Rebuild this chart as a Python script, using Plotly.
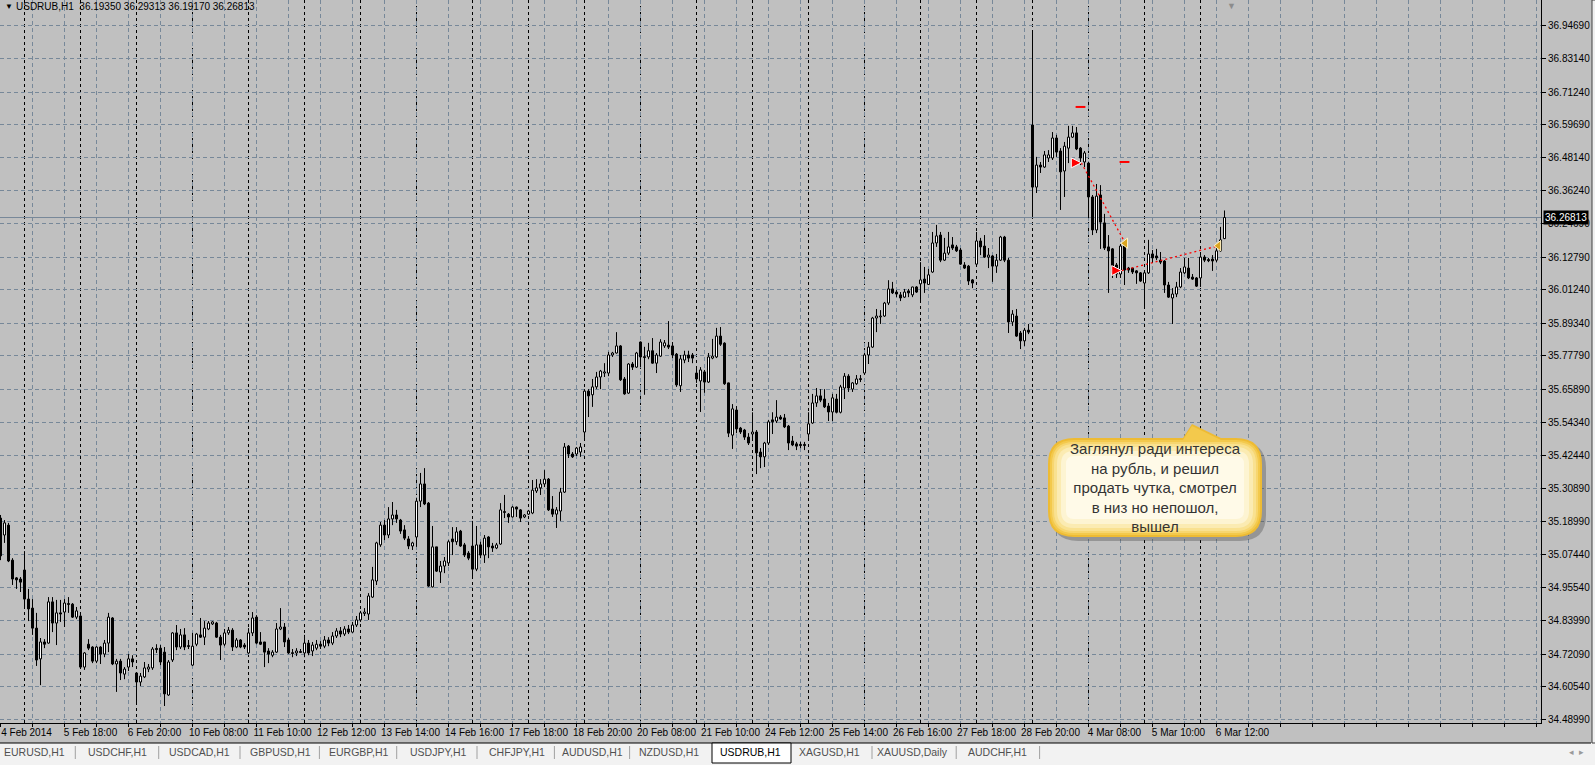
import plotly.graph_objects as go

# ---------------- data (USDRUB, H1) ----------------
opens = [
35.203,35.143,35.178,35.054,34.991,34.987,35.019,34.916,34.884,34.813,
34.704,34.764,34.760,34.906,34.831,34.867,34.870,34.900,34.898,34.852,
34.856,34.675,34.756,34.746,34.696,34.746,34.721,34.760,34.849,34.686,
34.696,34.650,34.675,34.704,34.654,34.622,34.640,34.668,34.672,34.741,
34.742,34.728,34.576,34.700,34.796,34.746,34.789,34.751,34.682,34.756,
34.789,34.781,34.810,34.828,34.831,34.781,34.756,34.796,34.806,34.746,
34.771,34.753,34.725,34.796,34.852,34.764,34.764,34.732,34.717,34.728,
34.810,34.817,34.771,34.726,34.725,34.730,34.725,34.760,34.732,34.742,
34.756,34.749,34.771,34.760,34.785,34.803,34.792,34.810,34.799,34.824,
34.842,34.865,34.863,34.923,34.980,35.108,35.178,35.143,35.200,35.214,
35.196,35.161,35.129,35.104,35.136,35.263,35.324,35.256,34.959,35.101,
35.012,35.033,35.044,35.129,35.119,35.157,35.108,35.079,35.104,35.022,
35.108,35.072,35.136,35.104,35.097,35.111,35.226,35.217,35.207,35.242,
35.232,35.207,35.217,35.221,35.299,35.310,35.324,35.341,35.235,35.217,
35.228,35.295,35.458,35.430,35.430,35.437,35.508,35.653,35.640,35.668,
35.703,35.717,35.717,35.781,35.788,35.813,35.696,35.646,35.749,35.738,
35.827,35.775,35.774,35.796,35.752,35.777,35.813,35.816,35.813,35.784,
35.672,35.763,35.781,35.781,35.717,35.689,35.721,35.685,35.770,35.774,
35.848,35.823,35.682,35.497,35.586,35.522,35.515,35.490,35.501,35.508,
35.437,35.420,35.469,35.551,35.547,35.561,35.558,35.529,35.476,35.466,
35.464,35.464,35.501,35.540,35.611,35.636,35.625,35.600,35.579,35.625,
35.578,35.664,35.706,35.660,35.679,35.697,35.717,35.781,35.809,35.912,
35.916,35.919,35.965,36.015,36.004,35.994,35.986,36.008,35.994,36.022,
36.033,36.050,36.031,36.075,36.178,36.206,36.117,36.142,36.171,36.164,
36.153,36.100,36.096,36.047,36.103,36.185,36.167,36.128,36.132,36.096,
36.117,36.199,36.117,35.898,35.919,35.859,35.831,35.869,36.596,36.376,
36.454,36.447,36.479,36.479,36.550,36.504,36.433,36.514,36.553,36.568,
36.514,36.465,36.461,36.341,36.224,36.348,36.249,36.164,36.157,36.100,
36.068,36.167,36.089,36.089,36.079,36.072,36.036,36.072,36.139,36.132,
36.117,36.114,36.029,35.983,35.997,36.022,36.072,36.089,36.057,36.054,
36.054,36.128,36.119,36.121,36.117,36.150,36.19350]

highs = [
35.214,35.196,35.186,35.061,34.994,34.994,35.086,34.952,34.916,34.867,
34.778,34.774,34.923,34.923,34.913,34.913,34.916,34.923,34.902,34.888,
34.859,34.728,34.774,34.749,34.749,34.749,34.771,34.867,34.852,34.704,
34.704,34.675,34.721,34.717,34.657,34.654,34.693,34.686,34.746,34.756,
34.753,34.746,34.700,34.799,34.824,34.810,34.813,34.771,34.796,34.796,
34.849,34.838,34.838,34.838,34.835,34.789,34.810,34.817,34.813,34.778,
34.774,34.760,34.813,34.870,34.859,34.799,34.764,34.742,34.735,34.831,
34.884,34.831,34.778,34.739,34.742,34.739,34.789,34.771,34.764,34.771,
34.767,34.785,34.781,34.799,34.813,34.817,34.820,34.824,34.835,34.856,
34.874,34.884,34.937,35.030,35.119,35.189,35.196,35.242,35.260,35.232,
35.200,35.178,35.139,35.119,35.274,35.363,35.380,35.260,35.175,35.101,
35.051,35.065,35.125,35.171,35.171,35.161,35.115,35.086,35.193,35.175,
35.119,35.143,35.139,35.115,35.115,35.256,35.285,35.221,35.246,35.244,
35.235,35.217,35.232,35.338,35.341,35.341,35.373,35.345,35.281,35.242,
35.310,35.469,35.462,35.437,35.455,35.469,35.660,35.660,35.696,35.721,
35.728,35.752,35.792,35.792,35.862,35.816,35.703,35.752,35.756,35.792,
35.829,35.810,35.824,35.841,35.788,35.837,35.834,35.901,35.827,35.788,
35.781,35.796,35.796,35.788,35.735,35.738,35.728,35.788,35.838,35.877,
35.880,35.826,35.683,35.607,35.600,35.526,35.519,35.504,35.578,35.515,
35.451,35.473,35.551,35.578,35.621,35.568,35.572,35.533,35.494,35.473,
35.473,35.473,35.578,35.643,35.664,35.660,35.660,35.611,35.643,35.643,
35.675,35.717,35.713,35.685,35.710,35.710,35.788,35.827,35.916,35.944,
35.940,35.969,36.046,36.040,36.011,36.004,36.015,36.015,36.023,36.025,
36.110,36.093,36.086,36.217,36.242,36.217,36.196,36.217,36.199,36.171,
36.160,36.110,36.100,36.050,36.217,36.196,36.206,36.160,36.135,36.139,
36.203,36.203,36.125,35.940,35.944,35.866,35.877,35.891,36.926,36.483,
36.465,36.504,36.507,36.571,36.561,36.514,36.536,36.593,36.593,36.589,
36.518,36.504,36.465,36.348,36.387,36.383,36.281,36.206,36.160,36.107,
36.174,36.174,36.093,36.090,36.082,36.075,36.075,36.189,36.153,36.157,
36.146,36.117,36.040,36.018,36.040,36.089,36.125,36.125,36.068,36.057,
36.135,36.135,36.125,36.135,36.160,36.235,36.29313]

lows = [
35.054,35.115,35.047,34.966,34.952,34.941,34.888,34.838,34.789,34.679,
34.611,34.742,34.758,34.799,34.753,34.835,34.817,34.867,34.849,34.845,
34.672,34.665,34.735,34.689,34.689,34.686,34.710,34.728,34.682,34.587,
34.629,34.632,34.661,34.675,34.544,34.608,34.636,34.657,34.665,34.725,
34.682,34.537,34.573,34.693,34.735,34.739,34.735,34.739,34.679,34.749,
34.778,34.753,34.806,34.824,34.778,34.700,34.749,34.789,34.732,34.742,
34.742,34.739,34.721,34.785,34.756,34.753,34.675,34.689,34.710,34.725,
34.806,34.746,34.721,34.710,34.714,34.725,34.710,34.717,34.714,34.735,
34.739,34.742,34.749,34.753,34.778,34.781,34.785,34.792,34.796,34.817,
34.835,34.856,34.842,34.920,34.966,35.101,35.125,35.132,35.178,35.186,
35.147,35.125,35.093,35.090,35.101,35.242,35.249,34.959,34.957,35.012,
34.973,35.008,35.033,35.072,35.108,35.101,35.065,35.054,34.994,35.015,
35.061,35.044,35.061,35.083,35.093,35.108,35.203,35.186,35.205,35.207,
35.189,35.203,35.214,35.217,35.292,35.285,35.313,35.228,35.207,35.168,
35.193,35.292,35.416,35.416,35.423,35.420,35.487,35.561,35.597,35.660,
35.660,35.703,35.706,35.774,35.786,35.689,35.640,35.643,35.728,35.735,
35.738,35.640,35.766,35.750,35.717,35.774,35.806,35.802,35.770,35.668,
35.650,35.752,35.756,35.752,35.682,35.579,35.647,35.682,35.766,35.770,
35.813,35.675,35.490,35.448,35.504,35.501,35.480,35.462,35.480,35.359,
35.380,35.384,35.462,35.501,35.540,35.551,35.522,35.444,35.458,35.444,
35.451,35.444,35.487,35.537,35.597,35.614,35.593,35.547,35.547,35.574,
35.574,35.625,35.650,35.650,35.675,35.685,35.710,35.749,35.806,35.862,
35.891,35.916,35.958,35.997,35.986,35.972,35.983,35.986,35.986,36.001,
35.976,36.001,36.029,36.072,36.164,36.110,36.114,36.135,36.153,36.146,
36.100,36.086,36.029,36.018,36.100,36.135,36.125,36.089,36.040,36.072,
36.114,36.110,35.859,35.884,35.845,35.802,35.813,35.855,36.270,36.355,
36.426,36.444,36.465,36.472,36.483,36.295,36.341,36.461,36.550,36.507,
36.454,36.447,36.266,36.206,36.213,36.157,36.153,36.001,36.054,36.054,
36.054,36.029,36.072,36.068,36.033,36.040,35.951,36.068,36.107,36.117,
36.103,36.001,35.983,35.891,35.986,36.018,36.068,36.050,36.047,36.022,
36.022,36.110,36.110,36.079,36.110,36.146,36.19170]

closes = [
35.069,35.186,35.051,34.987,34.984,34.976,34.916,34.881,34.813,34.700,
34.764,34.756,34.906,34.831,34.867,34.863,34.902,34.897,34.852,34.874,
34.675,34.725,34.742,34.696,34.746,34.721,34.760,34.852,34.686,34.696,
34.654,34.668,34.704,34.693,34.622,34.643,34.672,34.675,34.739,34.737,
34.693,34.580,34.693,34.796,34.746,34.789,34.746,34.748,34.749,34.792,
34.781,34.813,34.831,34.835,34.781,34.753,34.796,34.806,34.746,34.771,
34.746,34.746,34.796,34.849,34.760,34.756,34.728,34.721,34.728,34.810,
34.817,34.764,34.725,34.723,34.732,34.727,34.760,34.725,34.753,34.756,
34.749,34.771,34.760,34.785,34.803,34.792,34.810,34.799,34.824,34.842,
34.867,34.870,34.927,34.984,35.115,35.178,35.143,35.200,35.214,35.200,
35.157,35.132,35.104,35.115,35.263,35.324,35.253,34.962,35.101,35.015,
35.033,35.051,35.119,35.119,35.154,35.104,35.072,35.061,35.022,35.108,
35.072,35.132,35.101,35.097,35.108,35.232,35.223,35.207,35.242,35.235,
35.203,35.214,35.228,35.302,35.310,35.324,35.341,35.232,35.217,35.232,
35.295,35.455,35.430,35.420,35.451,35.455,35.653,35.636,35.668,35.703,
35.724,35.721,35.781,35.788,35.813,35.693,35.643,35.749,35.738,35.788,
35.774,35.772,35.796,35.752,35.781,35.827,35.824,35.809,35.781,35.675,
35.767,35.781,35.770,35.770,35.696,35.728,35.685,35.774,35.777,35.848,
35.819,35.679,35.504,35.590,35.519,35.508,35.490,35.469,35.508,35.434,
35.420,35.469,35.544,35.544,35.561,35.554,35.526,35.469,35.462,35.458,
35.460,35.460,35.537,35.611,35.636,35.621,35.597,35.579,35.629,35.578,
35.668,35.706,35.664,35.682,35.696,35.694,35.781,35.809,35.912,35.919,
35.919,35.965,36.015,36.001,35.997,35.983,36.004,36.001,36.022,36.004,
36.047,36.036,36.065,36.178,36.203,36.117,36.142,36.164,36.160,36.150,
36.103,36.089,36.043,36.036,36.185,36.164,36.128,36.135,36.096,36.117,
36.199,36.117,35.898,35.926,35.848,35.831,35.869,35.862,36.376,36.454,
36.447,36.490,36.490,36.550,36.500,36.430,36.521,36.553,36.568,36.511,
36.479,36.497,36.341,36.224,36.344,36.252,36.160,36.150,36.072,36.068,
36.167,36.082,36.082,36.075,36.072,36.043,36.072,36.139,36.125,36.125,
36.110,36.029,35.986,35.997,36.022,36.075,36.093,36.054,36.050,36.025,
36.128,36.117,36.115,36.114,36.150,36.189,36.26813]

bars = list(range(len(closes)))

# time-axis labels (one every 16 bars), day-separator bars
time_label_bars = [0, 16, 32, 48, 64, 80, 96, 112, 128, 144, 160, 176, 192, 208, 224, 240, 256, 272, 288, 304]
time_labels = ["4 Feb 2014", "5 Feb 18:00", "6 Feb 20:00", "10 Feb 08:00", "11 Feb 10:00",
               "12 Feb 12:00", "13 Feb 14:00", "14 Feb 16:00", "17 Feb 18:00", "18 Feb 20:00",
               "20 Feb 08:00", "21 Feb 10:00", "24 Feb 12:00", "25 Feb 14:00", "26 Feb 16:00",
               "27 Feb 18:00", "28 Feb 20:00", "4 Mar 08:00", "5 Mar 10:00", "6 Mar 12:00"]
day_start_bars = [6, 20, 34, 48, 62, 76, 90, 104, 118, 132, 146, 160, 174, 188, 202, 216,
                  230, 244, 258, 272, 286, 300]

price_ticks = [36.94690, 36.83140, 36.71240, 36.59690, 36.48140, 36.36240, 36.24690,
               36.12790, 36.01240, 35.89340, 35.77790, 35.65890, 35.54340, 35.42440,
               35.30890, 35.18990, 35.07440, 34.95540, 34.83990, 34.72090, 34.60540, 34.48990]

# trades drawn on the chart
trade_open_bar = [270.2, 280.3]
trade_open_price = [36.462, 36.080]
trade_close_bar = [281.2, 304.5]
trade_close_price = [36.177, 36.168]
stop_bar = [270, 281]
stop_price = [36.660, 36.465]

symbol = "USDRUB,H1"
tabs = ["EURUSD,H1", "USDCHF,H1", "USDCAD,H1", "GBPUSD,H1", "EURGBP,H1", "USDJPY,H1",
        "CHFJPY,H1", "AUDUSD,H1", "NZDUSD,H1", "USDRUB,H1", "XAGUSD,H1", "XAUUSD,Daily", "AUDCHF,H1"]
note_text = "Заглянул ради интереса<br>на рубль, и решил<br>продать чутка, смотрел<br>в низ но непошол,<br>вышел"

# ---------------- layout geometry ----------------
W, H = 1595, 765
ML, MR, MT, MB = 0, 54, 0, 42
PW, PH = W - ML - MR, H - MT - MB
FONT = "Liberation Sans, Arial, sans-serif"
BG = "#c0c0c0"
GRID = "#778899"
X0 = -0.125                      # bar k centred on pixel column 4k + 0.5
XR = [X0, X0 + PW / 4.0]


def px(x):
    return x / PW


def py(y):
    return 1 - y / PH


fig = go.Figure()

# wicks: upper and lower segments so that they never cross the bodies
wx, wy = [], []
for k in bars:
    top, bot = max(opens[k], closes[k]), min(opens[k], closes[k])
    wx += [k, k, None, k, k, None]
    wy += [highs[k], top, None, bot, lows[k], None]
fig.add_trace(go.Scatter(x=wx, y=wy, mode="lines", line=dict(color="black", width=1),
                         hoverinfo="skip", showlegend=False, connectgaps=False))

up = [k for k in bars if closes[k] >= opens[k]]
dn = [k for k in bars if closes[k] < opens[k]]
fig.add_trace(go.Bar(x=up, base=[opens[k] for k in up], y=[closes[k] - opens[k] for k in up],
                     width=0.5, marker=dict(color="white", line=dict(color="black", width=1)),
                     hoverinfo="skip", showlegend=False))
fig.add_trace(go.Bar(x=dn, base=[closes[k] for k in dn], y=[opens[k] - closes[k] for k in dn],
                     width=0.5, marker=dict(color="black", line=dict(color="black", width=1)),
                     hoverinfo="skip", showlegend=False))

# trade connectors
for i in range(len(trade_open_bar)):
    fig.add_trace(go.Scatter(
        x=[trade_open_bar[i], trade_close_bar[i]], y=[trade_open_price[i], trade_close_price[i]],
        mode="lines", line=dict(color="#ff0000", width=1.3, dash="2px,3px"),
        hoverinfo="skip", showlegend=False))
fig.add_trace(go.Scatter(
    x=trade_open_bar, y=trade_open_price, mode="markers",
    marker=dict(symbol="arrow-right", size=10, color="#ff0000", line=dict(color="white", width=1)),
    hoverinfo="skip", showlegend=False))
fig.add_trace(go.Scatter(
    x=trade_close_bar, y=trade_close_price, mode="markers",
    marker=dict(symbol="triangle-left", size=9, color="#daa520", line=dict(color="#fff5cc", width=1)),
    hoverinfo="skip", showlegend=False))
fig.add_trace(go.Scatter(
    x=stop_bar, y=stop_price, mode="markers",
    marker=dict(symbol="line-ew", size=7, color="#ff0000", line=dict(color="#ff0000", width=2)),
    hoverinfo="skip", showlegend=False))

shapes = []
# day separators
for b in day_start_bars:
    shapes.append(dict(type="line", xref="x", yref="paper", x0=b, x1=b, y0=0, y1=1,
                       line=dict(color="black", width=1, dash="3px,3px"), layer="below"))
# bid line
shapes.append(dict(type="line", xref="paper", yref="y", x0=0, x1=1,
                   y0=closes[-1], y1=closes[-1], line=dict(color=GRID, width=1), layer="below"))

BX0, BY0, BX1, BY1 = 1048, 438, 1262, 537


def bubble_path(inset, tail, dx=0, dy=0):
    x0, y0, x1, y1 = BX0 + inset + dx, BY0 + inset + dy, BX1 - inset + dx, BY1 - inset + dy
    r = max(26 - inset, 6)
    pts = [f"M {px(x0 + r)} {py(y0)}"]
    if tail:
        pts += [f"L {px(1183 + dx)} {py(y0)}", f"L {px(1192 + dx)} {py(424 + inset + dy)}",
                f"L {px(1221 + dx)} {py(y0)}"]
    pts += [f"L {px(x1 - r)} {py(y0)}", f"Q {px(x1)} {py(y0)} {px(x1)} {py(y0 + r)}",
            f"L {px(x1)} {py(y1 - r)}", f"Q {px(x1)} {py(y1)} {px(x1 - r)} {py(y1)}",
            f"L {px(x0 + r)} {py(y1)}", f"Q {px(x0)} {py(y1)} {px(x0)} {py(y1 - r)}",
            f"L {px(x0)} {py(y0 + r)}", f"Q {px(x0)} {py(y0)} {px(x0 + r)} {py(y0)} Z"]
    return " ".join(pts)


shapes.append(dict(type="path", xref="paper", yref="paper", path=bubble_path(0, True, 4, 4),
                   fillcolor="rgba(70,70,70,0.35)", line=dict(width=0)))
for inset, col in [(0, "#eebb33"), (2, "#f3c94c"), (4, "#f7d670"), (6, "#f9e190"),
                   (9, "#fbebb2"), (13, "#fdf4d2"), (18, "#fffae8")]:
    shapes.append(dict(type="path", xref="paper", yref="paper", path=bubble_path(inset, inset <= 2),
                       fillcolor=col, line=dict(width=0)))

# bottom tab strip and right window edge
shapes.append(dict(type="rect", xref="paper", yref="paper", x0=px(0), x1=px(W), y0=py(743), y1=py(H),
                   fillcolor="#f2f2f2", line=dict(width=0)))
shapes.append(dict(type="line", xref="paper", yref="paper", x0=px(0), x1=px(1591), y0=py(743), y1=py(743),
                   line=dict(color="black", width=1)))
shapes.append(dict(type="rect", xref="paper", yref="paper", x0=px(1592), x1=px(W + 2), y0=py(0), y1=py(743),
                   fillcolor="#f0f0f0", line=dict(color="#404040", width=1)))
tab_centers = [34, 117, 199.4, 280.8, 358, 438.4, 516.7, 592, 669.3, 750.7, 829, 912.4, 997.9]
tab_seps = [75.3, 158.7, 240, 319.4, 396.7, 477, 554.4, 629.6, 872, 956.2, 1039.6]
for s in tab_seps:
    shapes.append(dict(type="line", xref="paper", yref="paper", x0=px(s), x1=px(s), y0=py(746), y1=py(759),
                       line=dict(color="#a0a0a0", width=1)))
shapes.append(dict(type="rect", xref="paper", yref="paper", x0=px(712), x1=px(791), y0=py(743), y1=py(763),
                   fillcolor="white", line=dict(color="black", width=1)))

annotations = []
# header
annotations.append(dict(xref="paper", yref="paper", x=px(3), y=py(7), xanchor="left", yanchor="middle",
                        text="▼", showarrow=False, font=dict(family=FONT, size=8, color="black")))
hdr = f"{symbol}\u00a0 {opens[-1]:.5f} {highs[-1]:.5f} {lows[-1]:.5f} {closes[-1]:.5f}"
annotations.append(dict(xref="paper", yref="paper", x=px(14), y=py(7), xanchor="left", yanchor="middle",
                        text=hdr, showarrow=False, font=dict(family=FONT, size=10, color="black")))
# chart-shift marker
annotations.append(dict(xref="paper", yref="paper", x=px(1231), y=1, xanchor="center", yanchor="top",
                        text="▼", showarrow=False, borderpad=0,
                        font=dict(family=FONT, size=9, color="#8c8c8c")))
# bid price label
annotations.append(dict(xref="paper", yref="y", x=1, y=closes[-1], xanchor="left", yanchor="middle",
                        xshift=2, text=f"{closes[-1]:.5f}", showarrow=False, bgcolor="black",
                        borderpad=1, font=dict(family=FONT, size=10, color="white")))
# callout text
annotations.append(dict(xref="paper", yref="paper", x=px(1155), y=py(487), xanchor="center", yanchor="middle",
                        text=note_text, showarrow=False, align="center",
                        font=dict(family=FONT, size=15, color="#333333")))
# tabs
for name, cx in zip(tabs, tab_centers):
    annotations.append(dict(xref="paper", yref="paper", x=px(cx), y=py(752), xanchor="center",
                            yanchor="middle", text=name, showarrow=False,
                            font=dict(family=FONT, size=10.5, color="black" if name == symbol else "#505050")))
annotations.append(dict(xref="paper", yref="paper", x=px(1576), y=py(752), xanchor="center", yanchor="middle",
                        text="◂\u00a0\u00a0▸", showarrow=False, font=dict(family=FONT, size=9, color="#9a9a9a")))

grid_bars = list(range(0, 385, 8))
grid_text = []
for b in grid_bars:
    grid_text.append(time_labels[time_label_bars.index(b)] if b in time_label_bars else "")

fig.update_layout(
    width=W, height=H, margin=dict(l=ML, r=MR, t=MT, b=MB),
    paper_bgcolor=BG, plot_bgcolor=BG, showlegend=False, barmode="overlay",
    shapes=shapes, annotations=annotations,
    xaxis=dict(range=XR, tickmode="array", tickvals=grid_bars, ticktext=grid_text,
               showgrid=True, gridcolor=GRID, griddash="4px,3px", gridwidth=1,
               ticks="outside", ticklen=3, tickcolor="black", ticklabelshift=26, ticklabelstandoff=-3,
               showline=True, linecolor="black", linewidth=1, zeroline=False, fixedrange=True,
               tickfont=dict(family=FONT, size=10, color="black")),
    yaxis=dict(range=[34.4768, 37.0390], side="right", tickmode="array", tickvals=price_ticks,
               ticktext=[f"{v:.5f}" for v in price_ticks],
               showgrid=True, gridcolor=GRID, griddash="4px,3px", gridwidth=1,
               ticks="outside", ticklen=4, tickcolor="black",
               showline=True, linecolor="black", linewidth=1, zeroline=False, fixedrange=True,
               tickfont=dict(family=FONT, size=10, color="black")),
)

fig.write_html("out.html", config={"displayModeBar": False, "staticPlot": True},
               post_script="document.body.style.margin='0';document.body.style.overflow='hidden';"
                           "document.body.style.background='#c0c0c0';")
